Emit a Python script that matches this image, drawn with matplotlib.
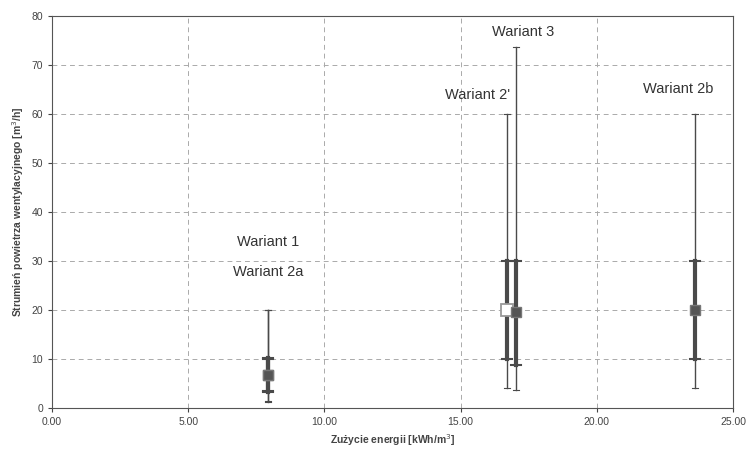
import matplotlib
matplotlib.use("Agg")
import matplotlib.pyplot as plt

plt.rcParams['font.family'] = ['Liberation Sans', 'DejaVu Sans']

variants = ["Wariant 1", "Wariant 2a", "Wariant 2'", "Wariant 3", "Wariant 2b"]
energy = [7.93, 7.93, 16.7, 17.03, 23.6]
w_min = [1.5, 1.2, 4.1, 3.7, 4.0]
w_max = [20.0, 20.0, 60.0, 73.7, 60.0]
q_low = [3.5, 3.3, 10.0, 8.8, 10.0]
q_high = [10.0, 10.2, 30.0, 30.0, 30.0]
median = [6.8, 6.7, 20.0, 19.5, 20.0]
label_x = [7.93, 7.93, 15.64, 17.3, 23.0]
label_y = [33.9, 27.8, 63.9, 76.7, 65.1]

xticks = [0, 5, 10, 15, 20, 25]
yticks = [0, 10, 20, 30, 40, 50, 60, 70, 80]

fig = plt.figure(figsize=(7.5, 4.59), dpi=100)
ax = fig.add_axes([52/750, 1-408/459, (733-52)/750, (408-16)/459])

dark = '#4a4a4a'
for i in range(len(variants)):
    x = energy[i]
    ax.plot([x, x], [w_min[i], w_max[i]], color=dark, lw=1.0, zorder=3)
    ax.plot([x, x], [q_low[i], q_high[i]], color=dark, lw=3.0, zorder=4)
    for v in (w_min[i], w_max[i]):
        ax.plot([x-0.1, x+0.1], [v, v], color=dark, lw=0.8, zorder=4)
    for v in (q_low[i], q_high[i]):
        ax.plot([x-0.18, x+0.18], [v, v], color=dark, lw=1.5, zorder=4)
    if variants[i] == "Wariant 2'":
        ax.plot(x, median[i], marker='s', ms=8, mfc='white', mec='#999999', mew=1.3, zorder=5)
    else:
        ax.plot(x, median[i], marker='s', ms=7, mfc='#555555', mec='#777777', zorder=5)
    ax.text(label_x[i], label_y[i], variants[i], ha='center', va='center',
            fontsize=10.5, color='#333333')

ax.set_xlim(0, 25)
ax.set_ylim(0, 80)
ax.set_xticks(xticks)
ax.set_xticklabels([f"{t:.2f}" for t in xticks])
ax.set_yticks(yticks)
ax.tick_params(labelsize=7.5, colors='#444444', length=3)
ax.grid(True, linestyle=(0, (5, 4)), color='#aaaaaa', lw=0.7)
for s in ax.spines.values():
    s.set_color('#555555')
ax.set_xlabel("Zużycie energii [kWh/m$^3$]", fontsize=7.5, fontweight='bold', color='#444444')
ax.set_ylabel("Strumień powietrza wentylacyjnego [m$^3$/h]", fontsize=7.5, fontweight='bold', color='#444444')

fig.savefig("out.png", dpi=100)
